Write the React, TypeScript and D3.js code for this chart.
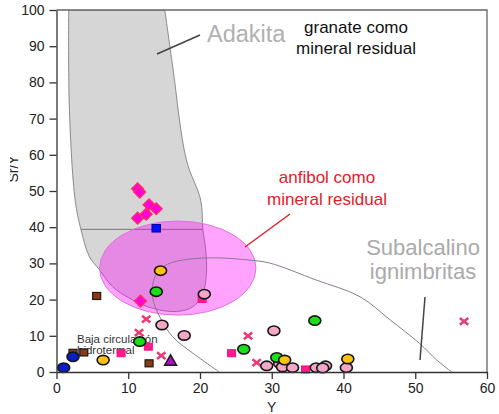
import React, { useEffect, useRef } from "react";
import * as d3 from "d3";

// Axis ticks
const xTicks = [0, 10, 20, 30, 40, 50, 60];
const yTicks = [0, 10, 20, 30, 40, 50, 60, 70, 80, 90, 100];

// Adakite field outline (Y, Sr/Y), open along the top edge
const adakitaField: [number, number][] = [
  [1.7, 100], [1.8, 72.4], [2.6, 47.5], [3.4, 39.4], [4.6, 31.8], [6.0, 28.2],
  [7.8, 23.6], [10.6, 19.9], [13.4, 17.6], [16.7, 16.7], [19.0, 18.0],
  [20.4, 21.7], [20.9, 27.3], [20.8, 33.7], [20.4, 39.4], [20.1, 47.5],
  [18.1, 58.6], [16.2, 84.3], [15.1, 100],
];
// Horizontal divider inside the adakite field
const adakitaDivider: [number, number][] = [[3.4, 39.4], [20.4, 39.4]];

// Sub-alkaline ignimbrite field boundary
const subalcalinoCurve: [number, number][] = [
  [22.7, 0], [19.0, 5.2], [16.2, 9.7], [14.4, 15.2], [13.4, 20.7], [13.7, 26.2],
  [15.3, 29.6], [18.6, 31.2], [22.7, 31.5], [26.9, 30.9], [29.7, 30.1],
  [36.2, 25.4], [42.3, 20.8], [46.5, 14.4], [50.6, 7.9], [53.0, 3.3], [55.1, 0],
];

// Amphibole residue field (ellipse: centre and semi-axes in data units)
const anfibolCenter: [number, number] = [16.9, 28.7];
const anfibolRadii: [number, number] = [10.9, 13.0];

// Samples, grouped by symbol
const pinkDiamonds: [number, number][] = [
  [11.3, 50.6], [11.6, 49.7], [12.9, 46.2], [13.9, 45.1], [12.5, 43.6], [11.3, 42.5], [11.7, 19.6],
];
const blueSquares: [number, number][] = [[13.9, 39.7]];
const brownSquares: [number, number][] = [[5.6, 21.0], [2.3, 5.3], [3.8, 5.4], [12.9, 2.4]];
const pinkSquares: [number, number][] = [[9.0, 5.2], [12.8, 7.0], [20.3, 20.2], [24.4, 5.2], [34.7, 0.7]];
const redCrosses: [number, number][] = [
  [12.5, 14.6], [11.5, 10.9], [14.6, 4.5], [26.7, 10.0], [27.9, 2.6], [56.8, 14.0],
];
const greenCircles: [number, number][] = [[13.9, 22.2], [11.6, 8.4], [26.1, 6.3], [36.0, 14.2], [30.7, 4.0]];
const yellowCircles: [number, number][] = [[14.5, 28.0], [6.5, 3.3], [31.8, 3.3], [40.6, 3.6]];
const pinkCircles: [number, number][] = [
  [20.6, 21.5], [14.7, 13.0], [17.8, 10.1], [30.3, 11.4], [29.3, 1.7], [31.1, 2.4],
  [31.5, 1.4], [32.9, 1.2], [36.2, 1.2], [37.5, 1.7], [37.1, 1.1], [40.4, 1.2],
];
const blueCircles: [number, number][] = [[1.0, 1.2], [2.3, 4.2]];
const purpleTriangles: [number, number][] = [[15.9, 3.1]];

const FONT = "'Liberation Sans', Arial, Helvetica, sans-serif";

export default function App() {
  const ref = useRef<SVGSVGElement>(null);

  useEffect(() => {
    const svg = d3.select(ref.current);
    svg.selectAll("*").remove();

    const x = d3.scaleLinear().domain([0, 60]).range([56.5, 487]);
    const y = d3.scaleLinear().domain([0, 100]).range([372, 10]);

    const clipId = "plot-clip";
    const defs = svg.append("defs");
    defs.append("clipPath").attr("id", clipId)
      .append("rect").attr("x", x(0)).attr("y", y(100))
      .attr("width", x(60) - x(0)).attr("height", y(0) - y(100));
    defs.append("clipPath").attr("id", "ylabel-clip")
      .append("rect").attr("x", 10).attr("y", 0).attr("width", 40).attr("height", 414);

    const plot = svg.append("g").attr("clip-path", `url(#${clipId})`);
    const line = d3.line<[number, number]>().x(d => x(d[0])).y(d => y(d[1]));

    // Adakite field
    plot.append("path")
      .attr("d", line.curve(d3.curveCatmullRom)(adakitaField) + "Z")
      .attr("fill", "#d6d6d6").attr("stroke", "#8a8a8a").attr("stroke-width", 1);
    plot.append("path")
      .attr("d", line.curve(d3.curveLinear)(adakitaDivider))
      .attr("stroke", "#777").attr("stroke-width", 1).attr("fill", "none");

    // Amphibole field
    plot.append("ellipse")
      .attr("cx", x(anfibolCenter[0])).attr("cy", y(anfibolCenter[1]))
      .attr("rx", x(anfibolRadii[0]) - x(0)).attr("ry", y(0) - y(anfibolRadii[1]))
      .attr("fill", "#ff00ff").attr("fill-opacity", 0.36)
      .attr("stroke", "#e070e0").attr("stroke-width", 1);

    // Sub-alkaline field
    plot.append("path")
      .attr("d", line.curve(d3.curveCatmullRom)(subalcalinoCurve))
      .attr("fill", "none").attr("stroke", "#8a7a8a").attr("stroke-width", 1);

    // Low hydrothermal circulation note
    const baja = svg.append("text").attr("font-family", FONT).attr("font-size", 11.5).attr("fill", "#333");
    baja.append("tspan").attr("x", 77).attr("y", 343).text("Baja circulación");
    baja.append("tspan").attr("x", 77).attr("y", 353.5).text("hidrotermal");

    const marks = svg.append("g");

    // Diamonds
    const dr = 5.8;
    marks.selectAll(".dia").data(pinkDiamonds).join("path")
      .attr("d", d => `M${x(d[0])},${y(d[1]) - dr}L${x(d[0]) + dr},${y(d[1])}L${x(d[0])},${y(d[1]) + dr}L${x(d[0]) - dr},${y(d[1])}Z`)
      .attr("fill", "#ff00dd").attr("stroke", "#ff2a70").attr("stroke-width", 1.5);

    // Squares
    const square = (data: [number, number][], w: number, h: number, fill: string, stroke: string, sw: number) =>
      marks.append("g").selectAll("rect").data(data).join("rect")
        .attr("x", d => x(d[0]) - w / 2).attr("y", d => y(d[1]) - h / 2)
        .attr("width", w).attr("height", h)
        .attr("fill", fill).attr("stroke", stroke).attr("stroke-width", sw);
    square(blueSquares, 8.5, 7.5, "#0010ff", "#0000a0", 1);
    square(brownSquares, 8, 7, "#8b3a14", "#1a1a1a", 1.2);
    square(pinkSquares, 8, 7, "#ff1a8c", "#ff0a80", 1);

    // Crosses
    const cr = 4.2;
    marks.append("g").selectAll("path").data(redCrosses).join("path")
      .attr("d", d => {
        const cx = x(d[0]), cy = y(d[1]);
        return `M${cx - cr},${cy - cr * 0.8}L${cx + cr},${cy + cr * 0.8}M${cx - cr},${cy + cr * 0.8}L${cx + cr},${cy - cr * 0.8}`;
      })
      .attr("stroke", "#ea3c72").attr("stroke-width", 2.6).attr("fill", "none");

    // Circles
    const circles = (data: [number, number][], fill: string) =>
      marks.append("g").selectAll("ellipse").data(data).join("ellipse")
        .attr("cx", d => x(d[0])).attr("cy", d => y(d[1]))
        .attr("rx", 6).attr("ry", 4.7)
        .attr("fill", fill).attr("stroke", "#151515").attr("stroke-width", 1.6);
    circles(pinkCircles, "#f4a7c8");
    circles(greenCircles, "#18e018");
    circles(yellowCircles, "#ffc20e");
    circles(blueCircles, "#0a1ec8");

    // Triangles
    marks.append("g").selectAll("path").data(purpleTriangles).join("path")
      .attr("d", d => {
        const cx = x(d[0]), cy = y(d[1]);
        return `M${cx},${cy - 6}L${cx + 6},${cy + 4.5}L${cx - 6},${cy + 4.5}Z`;
      })
      .attr("fill", "#b40ac8").attr("stroke", "#1a1a1a").attr("stroke-width", 1.4);

    // Annotations
    const ann = svg.append("g").attr("font-family", FONT);
    ann.append("line").attr("x1", 157).attr("y1", 54).attr("x2", 200).attr("y2", 35)
      .attr("stroke", "#444").attr("stroke-width", 1.5);
    ann.append("text").attr("x", 207).attr("y", 42).attr("font-size", 23.5).attr("fill", "#b0b0b0").text("Adakita");

    const gran = ann.append("text").attr("font-size", 17).attr("fill", "#111").attr("text-anchor", "middle");
    gran.append("tspan").attr("x", 356).attr("y", 33).text("granate como");
    gran.append("tspan").attr("x", 356).attr("y", 54).text("mineral residual");

    const anf = ann.append("text").attr("font-size", 17).attr("fill", "#e3202a").attr("text-anchor", "middle");
    anf.append("tspan").attr("x", 327).attr("y", 183).text("anfibol como");
    anf.append("tspan").attr("x", 327).attr("y", 205).text("mineral residual");
    ann.append("line").attr("x1", 245).attr("y1", 247).attr("x2", 290).attr("y2", 214)
      .attr("stroke", "#e3202a").attr("stroke-width", 1.5);

    const sub = ann.append("text").attr("font-size", 22).attr("fill", "#aaaaaa").attr("text-anchor", "middle");
    sub.append("tspan").attr("x", 423).attr("y", 255).text("Subalcalino");
    sub.append("tspan").attr("x", 423).attr("y", 279).text("ignimbritas");
    ann.append("line").attr("x1", 425).attr("y1", 297).attr("x2", 420).attr("y2", 360)
      .attr("stroke", "#444").attr("stroke-width", 1.5);

    // Frame (top and right)
    svg.append("path")
      .attr("d", `M${x(0)},${y(100)}H${x(60)}V${y(0)}`)
      .attr("fill", "none").attr("stroke", "#666").attr("stroke-width", 1.3);

    // Axes
    const xAxis = svg.append("g").attr("transform", `translate(0,${y(0)})`)
      .call(d3.axisBottom(x).tickValues(xTicks).tickSize(7).tickPadding(4).tickSizeOuter(0));
    const yAxis = svg.append("g").attr("transform", `translate(${x(0)},0)`)
      .call(d3.axisLeft(y).tickValues(yTicks).tickSize(7).tickPadding(5).tickSizeOuter(0));
    [xAxis, yAxis].forEach(a => {
      a.selectAll("path, line").attr("stroke", "#333").attr("stroke-width", 1.3);
      a.selectAll("text").attr("font-family", FONT).attr("font-size", 14).attr("fill", "#222");
    });

    svg.append("text").attr("x", (x(0) + x(60)) / 2).attr("y", 412)
      .attr("text-anchor", "middle").attr("font-family", FONT).attr("font-size", 14).attr("fill", "#222")
      .text("Y");

    svg.append("g").attr("clip-path", "url(#ylabel-clip)")
      .append("text").attr("transform", "translate(17.5,169) rotate(-90)")
      .attr("text-anchor", "middle").attr("font-family", FONT).attr("font-size", 14).attr("fill", "#222")
      .text("Sr/Y");
  }, []);

  return (
    <svg
      ref={ref}
      width={499}
      height={414}
      style={{ position: "absolute", left: 0, top: 0, background: "#fff" }}
    />
  );
}
